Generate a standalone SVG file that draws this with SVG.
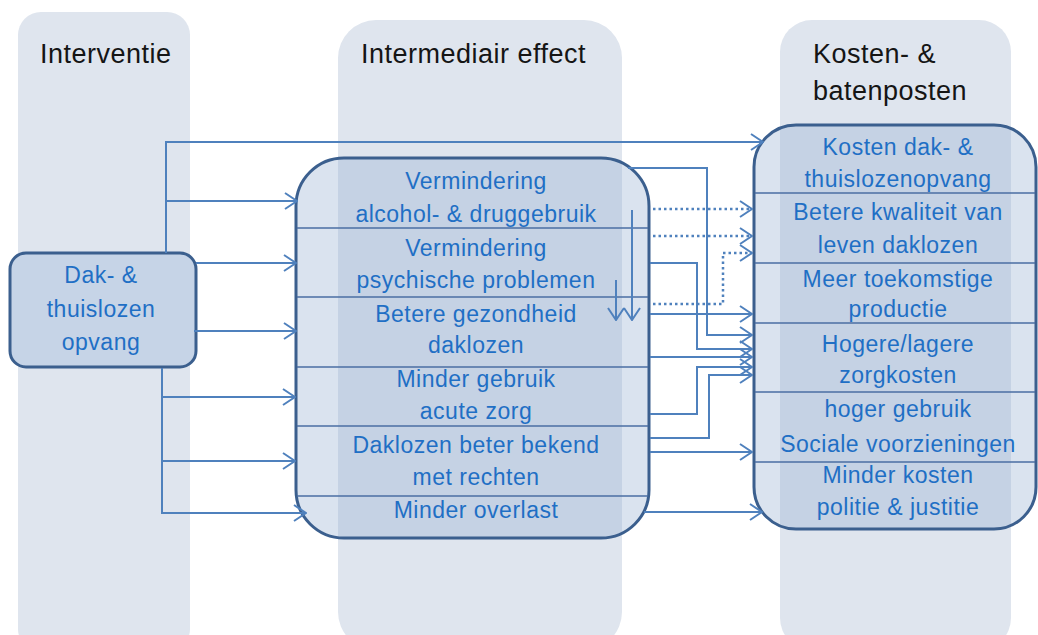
<svg xmlns="http://www.w3.org/2000/svg" width="1038" height="635" viewBox="0 0 1038 635">
<style>
.col{fill:#dfe5ee}
.hdr{font-family:"Liberation Sans",Arial,sans-serif;font-size:27px;fill:#151515;letter-spacing:0.5px}
.box{stroke:#3b5f8e;stroke-width:3}
.bt{font-family:"Liberation Sans",Arial,sans-serif;font-size:23px;fill:#1f6fc5;text-anchor:middle;letter-spacing:0.5px}
.div{stroke:#4a6ea3;stroke-width:1.5}
.c{fill:none;stroke:#4f81bd;stroke-width:2}
.d{fill:none;stroke:#4f81bd;stroke-width:2.5;stroke-dasharray:2.5 3}
</style>
<defs>
<marker id="ah" viewBox="0 0 14 18" refX="13" refY="9" markerWidth="14" markerHeight="18" markerUnits="userSpaceOnUse" orient="auto">
<path d="M1,1 L13,9 L1,17" fill="none" stroke="#4f81bd" stroke-width="2"/>
</marker>
</defs>
<g id="columns">
<rect class="col" x="18" y="12" width="172" height="640" rx="23"/>
<rect class="col" x="338" y="20" width="284" height="630" rx="38"/>
<rect class="col" x="780" y="20" width="231" height="630" rx="32"/>
<text class="hdr" x="40" y="63">Interventie</text>
<text class="hdr" x="361" y="63">Intermediair effect</text>
<text class="hdr" x="813" y="63">Kosten- &amp;</text>
<text class="hdr" x="813" y="100">batenposten</text>
</g>
<g id="node-interventie">
<rect class="box" x="10" y="253" width="186" height="114" rx="16" fill="#c6d4e7"/>
<text class="bt" x="101" y="283">Dak- &amp;</text>
<text class="bt" x="101" y="317">thuislozen</text>
<text class="bt" x="101" y="350">opvang</text>
</g>
<g id="node-intermediair">
<rect class="box" x="296" y="158" width="353" height="380" rx="48" fill="#93add1" fill-opacity="0.34"/>
<line class="div" x1="297" y1="228" x2="648" y2="228"/>
<line class="div" x1="297" y1="297" x2="648" y2="297"/>
<line class="div" x1="297" y1="367" x2="648" y2="367"/>
<line class="div" x1="297" y1="426" x2="648" y2="426"/>
<line class="div" x1="297" y1="496" x2="648" y2="496"/>
<text class="bt" x="476" y="189">Vermindering</text>
<text class="bt" x="476" y="222">alcohol- &amp; druggebruik</text>
<text class="bt" x="476" y="256">Vermindering</text>
<text class="bt" x="476" y="288">psychische problemen</text>
<text class="bt" x="476" y="322">Betere gezondheid</text>
<text class="bt" x="476" y="353">daklozen</text>
<text class="bt" x="476" y="387">Minder gebruik</text>
<text class="bt" x="476" y="419">acute zorg</text>
<text class="bt" x="476" y="453">Daklozen beter bekend</text>
<text class="bt" x="476" y="485">met rechten</text>
<text class="bt" x="476" y="518">Minder overlast</text>
</g>
<g id="node-kosten">
<rect class="box" x="754" y="125" width="282" height="404" rx="42" fill="#93add1" fill-opacity="0.34"/>
<line class="div" x1="755" y1="193" x2="1035" y2="193"/>
<line class="div" x1="755" y1="263" x2="1035" y2="263"/>
<line class="div" x1="755" y1="323" x2="1035" y2="323"/>
<line class="div" x1="755" y1="392" x2="1035" y2="392"/>
<line class="div" x1="755" y1="462" x2="1035" y2="462"/>
<text class="bt" x="898" y="155">Kosten dak- &amp;</text>
<text class="bt" x="898" y="187">thuislozenopvang</text>
<text class="bt" x="898" y="220">Betere kwaliteit van</text>
<text class="bt" x="898" y="253">leven daklozen</text>
<text class="bt" x="898" y="287">Meer toekomstige</text>
<text class="bt" x="898" y="317">productie</text>
<text class="bt" x="898" y="352">Hogere/lagere</text>
<text class="bt" x="898" y="383">zorgkosten</text>
<text class="bt" x="898" y="417">hoger gebruik</text>
<text class="bt" x="898" y="452">Sociale voorzieningen</text>
<text class="bt" x="898" y="483">Minder kosten</text>
<text class="bt" x="898" y="515">politie &amp; justitie</text>
</g>
<g id="connectors" marker-end="url(#ah)">
<path class="c" d="M166,253 V142 H763" marker-end="url(#ah)"/>
<path class="c" d="M166,201 H297" marker-end="url(#ah)"/>
<path class="c" d="M196,263 H296" marker-end="url(#ah)"/>
<path class="c" d="M194,331 H296" marker-end="url(#ah)"/>
<path class="c" d="M162,368 V513 H306" marker-end="url(#ah)"/>
<path class="c" d="M162,397 H295" marker-end="url(#ah)"/>
<path class="c" d="M162,461 H295" marker-end="url(#ah)"/>
<path class="c" d="M628,168 H707 V335 H752" marker-end="url(#ah)"/>
<path class="d" d="M653,209 H752" marker-end="url(#ah)"/>
<path class="d" d="M653,236 H752" marker-end="url(#ah)"/>
<path class="d" d="M653,304 H723 V253 H752" marker-end="url(#ah)"/>
<path class="c" d="M650,263 H697 V349 H752" marker-end="url(#ah)"/>
<path class="c" d="M650,314 H752" marker-end="url(#ah)"/>
<path class="c" d="M650,357 H752" marker-end="url(#ah)"/>
<path class="c" d="M650,414 H697 V367 H752" marker-end="url(#ah)"/>
<path class="c" d="M650,438 H709 V375 H752" marker-end="url(#ah)"/>
<path class="c" d="M650,452 H752" marker-end="url(#ah)"/>
<path class="c" d="M644,512 H762" marker-end="url(#ah)"/>
<path class="c" d="M632,210 V320" marker-end="url(#ah)"/>
<path class="c" d="M616,280 V320" marker-end="url(#ah)"/>
</g>
</svg>
